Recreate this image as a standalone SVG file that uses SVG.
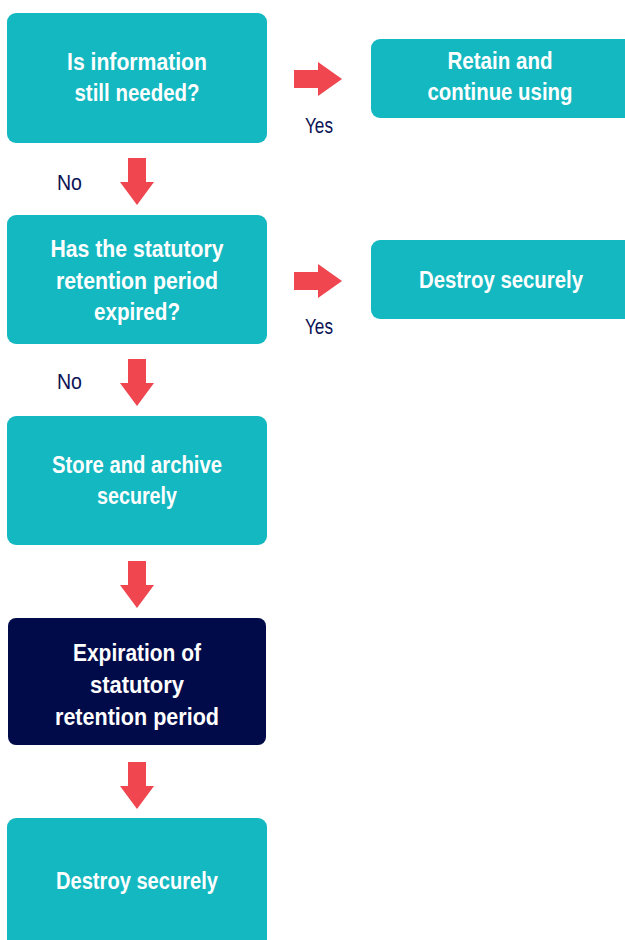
<svg xmlns="http://www.w3.org/2000/svg" xmlns:xlink="http://www.w3.org/1999/xlink" width="625" height="940" viewBox="0 0 625 940">
  <style>
    .box { fill: #14B8C1; }
    .dark { fill: #020B4A; }
    .t { font-family: "Liberation Sans", Arial, sans-serif; font-weight: bold; font-size: 23.5px; fill: #ffffff; text-anchor: middle; }
    .lbl { font-family: "Liberation Sans", Arial, sans-serif; font-size: 22.5px; fill: #0B1255; }
    .arr { fill: #EF4650; }
  </style>
  <defs>
    <!-- block arrow pointing down, origin at top-left of shaft bounding box -->
    <path id="down" d="M8 0 H26 V24 H34 L17 47 L0 24 H8 Z"/>
    <!-- block arrow pointing right, origin at vertical centre of the shaft start -->
    <path id="right" d="M0 -9 H24 V-17 L48 0 L24 17 V9 H0 Z"/>
  </defs>

  <g id="connectors" class="arr">
    <use xlink:href="#down" x="120" y="158"/>
    <use xlink:href="#down" x="120" y="359"/>
    <use xlink:href="#down" x="120" y="561"/>
    <use xlink:href="#down" x="120" y="762"/>
    <use xlink:href="#right" x="294" y="79"/>
    <use xlink:href="#right" x="294" y="281"/>
  </g>

  <g id="labels">
    <text class="lbl" x="305" y="133" textLength="28" lengthAdjust="spacingAndGlyphs">Yes</text>
    <text class="lbl" x="305" y="334" textLength="28" lengthAdjust="spacingAndGlyphs">Yes</text>
    <text class="lbl" x="57" y="190" textLength="25" lengthAdjust="spacingAndGlyphs">No</text>
    <text class="lbl" x="57" y="389" textLength="25" lengthAdjust="spacingAndGlyphs">No</text>
  </g>

  <g id="needed">
    <rect class="box" x="7" y="13" width="260" height="130" rx="9"/>
    <text class="t" x="137" y="70" textLength="140" lengthAdjust="spacingAndGlyphs">Is information</text>
    <text class="t" x="137" y="101" textLength="125" lengthAdjust="spacingAndGlyphs">still needed?</text>
  </g>

  <g id="retain">
    <rect class="box" x="371" y="39" width="264" height="79" rx="9"/>
    <text class="t" x="500" y="69" textLength="105" lengthAdjust="spacingAndGlyphs">Retain and</text>
    <text class="t" x="500" y="100" textLength="145" lengthAdjust="spacingAndGlyphs">continue using</text>
  </g>

  <g id="expired">
    <rect class="box" x="7" y="215" width="260" height="129" rx="9"/>
    <text class="t" x="137" y="257" textLength="173" lengthAdjust="spacingAndGlyphs">Has the statutory</text>
    <text class="t" x="137" y="289" textLength="162" lengthAdjust="spacingAndGlyphs">retention period</text>
    <text class="t" x="137" y="320" textLength="86" lengthAdjust="spacingAndGlyphs">expired?</text>
  </g>

  <g id="destroy-now">
    <rect class="box" x="371" y="240" width="264" height="79" rx="9"/>
    <text class="t" x="501" y="288" textLength="164" lengthAdjust="spacingAndGlyphs">Destroy securely</text>
  </g>

  <g id="archive">
    <rect class="box" x="7" y="416" width="260" height="129" rx="9"/>
    <text class="t" x="137" y="473" textLength="170" lengthAdjust="spacingAndGlyphs">Store and archive</text>
    <text class="t" x="137" y="504" textLength="80" lengthAdjust="spacingAndGlyphs">securely</text>
  </g>

  <g id="expiration">
    <rect class="dark" x="8" y="618" width="258" height="127" rx="8"/>
    <text class="t" x="137" y="661" textLength="128" lengthAdjust="spacingAndGlyphs">Expiration of</text>
    <text class="t" x="137" y="693" textLength="94" lengthAdjust="spacingAndGlyphs">statutory</text>
    <text class="t" x="137" y="725" textLength="164" lengthAdjust="spacingAndGlyphs">retention period</text>
  </g>

  <g id="destroy-later">
    <rect class="box" x="7" y="818" width="260" height="140" rx="9"/>
    <text class="t" x="137" y="889" textLength="162" lengthAdjust="spacingAndGlyphs">Destroy securely</text>
  </g>
</svg>
